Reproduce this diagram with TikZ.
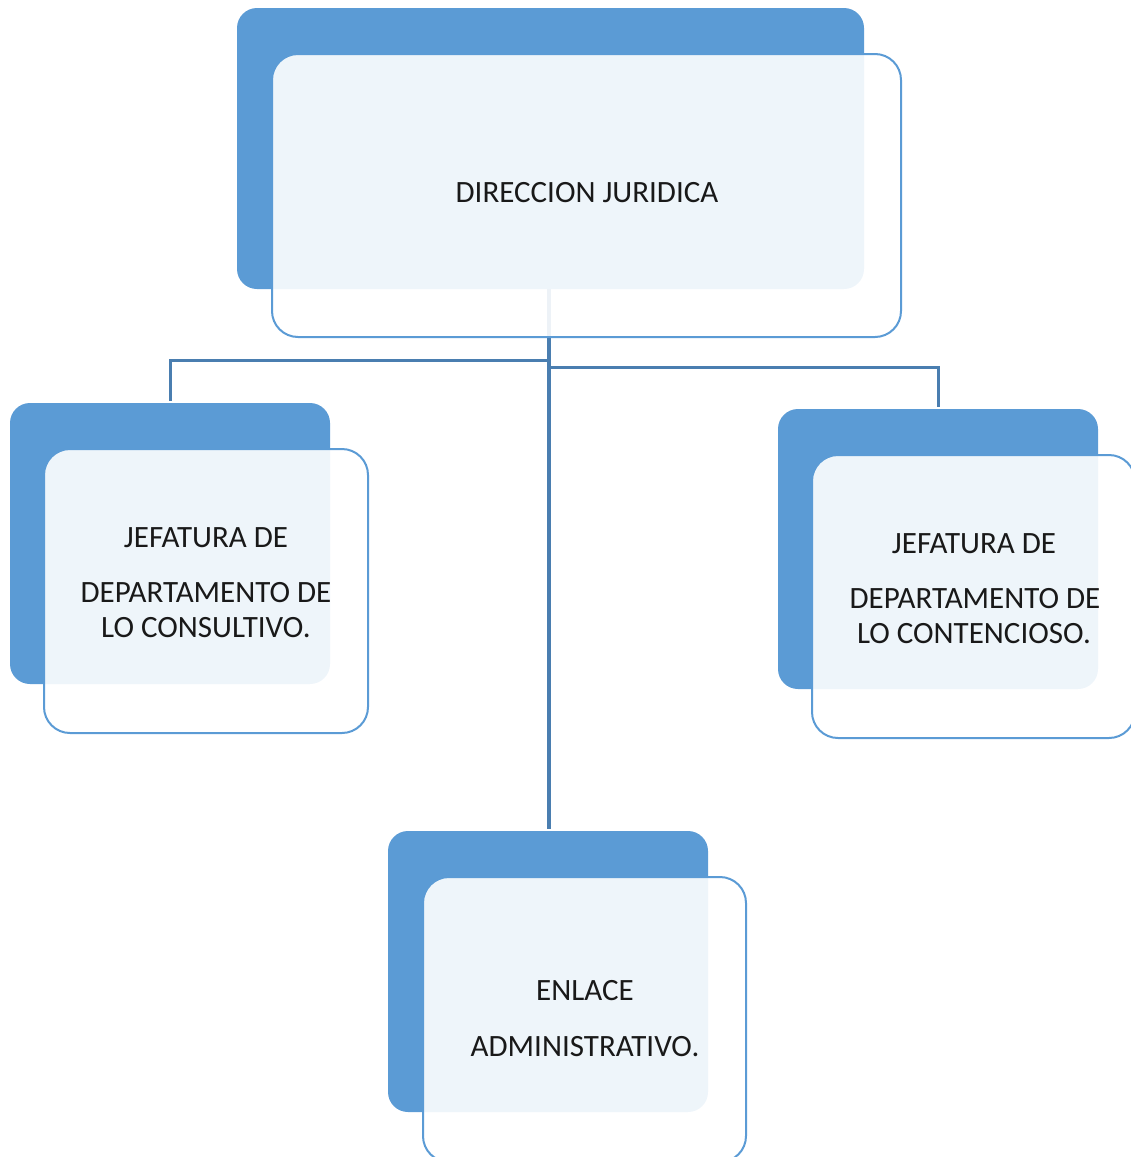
\documentclass[tikz,border=0pt]{standalone}
\usepackage{fontspec}
\setmainfont{Carlito}
\definecolor{darkblue}{HTML}{5B9BD5}
\definecolor{linkblue}{HTML}{4A7EB0}
\tikzset{
  backbox/.style={fill=darkblue, draw=none, rounded corners=20pt},
  frontbox/.style={fill=white, fill opacity=0.9, draw=darkblue, draw opacity=1, line width=2pt, rounded corners=26pt},
  lbl/.style={anchor=base, inner sep=0pt, font=\fontsize{31}{31}\selectfont, text=black!90},
  link/.style={draw=linkblue, line width=3pt},
  trunk/.style={draw=linkblue, line width=4pt}
}
\begin{document}
\begin{tikzpicture}[x=1pt,y=-1pt]
\useasboundingbox (0,0) rectangle (1131,1157);
% connectors (drawn first, beneath boxes)
\coordinate (tstart) at (549,289);
\coordinate (tend) at (549,829);
\coordinate (lj) at (549,360);
\coordinate (lc) at (170,360);
\coordinate (lt) at (170,401);
\coordinate (rj) at (549,367);
\coordinate (rc) at (938,367);
\coordinate (rt) at (938,407);
\draw[trunk] (tstart) -- (tend);
\draw[link] (lj) -- (lc) -- (lt);
\draw[link] (rj) -- (rc) -- (rt);
% top box
\path[backbox] (237,8) rectangle (864,289);
\path[frontbox] (272,54) rectangle (901,337);
\node[lbl] (dir) at (587,202) {DIRECCION JURIDICA};
% left box
\path[backbox] (10,403) rectangle (330,684);
\path[frontbox] (44,449) rectangle (368,733);
\node[lbl] (l1) at (206,547) {JEFATURA DE};
\node[lbl] (l2) at (206,602) {DEPARTAMENTO DE};
\node[lbl] (l3) at (206,637) {LO CONSULTIVO.};
% right box
\path[backbox] (778,409) rectangle (1098,689);
\path[frontbox] (812,455) rectangle (1135,738);
\node[lbl] (r1) at (974,553) {JEFATURA DE};
\node[lbl] (r2) at (975,608) {DEPARTAMENTO DE};
\node[lbl] (r3) at (974,643) {LO CONTENCIOSO.};
% bottom box
\path[backbox] (388,831) rectangle (708,1112);
\path[frontbox] (423,877) rectangle (746,1162);
\node[lbl] (b1) at (585,1000) {ENLACE};
\node[lbl] (b2) at (585,1056) {ADMINISTRATIVO.};
\end{tikzpicture}
\end{document}
